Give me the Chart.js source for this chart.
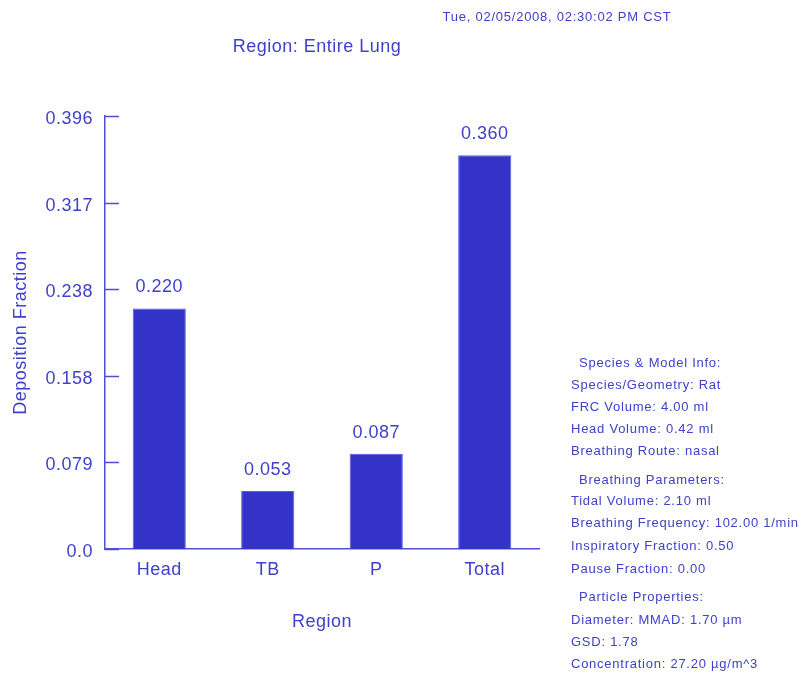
<!DOCTYPE html>
<html>
<head>
<meta charset="utf-8">
<script src="https://cdn.jsdelivr.net/npm/chart.js@4/dist/chart.umd.min.js"></script>
<style>
html,body{margin:0;padding:0;background:#fff;}
#wrap{position:relative;width:802px;height:673px;}
canvas{position:absolute;left:0;top:0;}
</style>
</head>
<body>
<div id="wrap"><canvas id="c" width="802" height="673"></canvas></div>
<script>
const categories = ["Head", "TB", "P", "Total"];
const depositionFraction = [0.220, 0.053, 0.087, 0.360];
const yTickValues = [0.0, 0.0792, 0.1584, 0.2376, 0.3168, 0.396];
const yTickLabels = ["0.0", "0.079", "0.158", "0.238", "0.317", "0.396"];
const chartTitle = "Region: Entire Lung";
const timestamp = "Tue, 02/05/2008, 02:30:02 PM CST";
const infoLines = [
  ["Species & Model Info:", true],
  ["Species/Geometry: Rat", false],
  ["FRC Volume: 4.00 ml", false],
  ["Head Volume: 0.42 ml", false],
  ["Breathing Route: nasal", false],
  ["Breathing Parameters:", true],
  ["Tidal Volume: 2.10 ml", false],
  ["Breathing Frequency: 102.00 1/min", false],
  ["Inspiratory Fraction: 0.50", false],
  ["Pause Fraction: 0.00", false],
  ["Particle Properties:", true],
  ["Diameter: MMAD: 1.70 \u00b5m", false],
  ["GSD: 1.78", false],
  ["Concentration: 27.20 \u00b5g/m^3", false]
];
const infoY = [363, 385, 407, 429, 451, 480, 501, 523, 546, 569, 597, 620, 642, 664];

const TXT = "#4040cc";
const AXIS = "#4f4fd6";
const FONT = "Liberation Sans, Arial, sans-serif";

const spacing = {
  id: "spacing",
  beforeDraw(chart) { chart.ctx.letterSpacing = "0.5px"; }
};

const extras = {
  id: "extras",
  afterDatasetsDraw(chart) {
    const ctx = chart.ctx;
    const y = chart.scales.y;
    ctx.save();
    ctx.strokeStyle = AXIS;
    ctx.lineWidth = 1.5;
    yTickValues.forEach(v => {
      const py = Math.round(y.getPixelForValue(v)) + 0.5;
      ctx.beginPath();
      ctx.moveTo(chart.chartArea.left, py);
      ctx.lineTo(chart.chartArea.left + 14, py);
      ctx.stroke();
    });
    ctx.fillStyle = TXT;
    ctx.letterSpacing = "0.5px";
    ctx.font = "18px " + FONT;
    ctx.textAlign = "center";
    ctx.textBaseline = "middle";
    const meta = chart.getDatasetMeta(0);
    meta.data.forEach((bar, i) => {
      ctx.fillText(depositionFraction[i].toFixed(3), bar.x, bar.y - 21);
    });
    ctx.fillText(chartTitle, 317, 47);
    ctx.letterSpacing = "0.75px";
    ctx.font = "13px " + FONT;
    ctx.fillText(timestamp, 557, 17);
    ctx.textAlign = "left";
    infoLines.forEach((ln, i) => {
      ctx.fillText(ln[0], ln[1] ? 579 : 571, infoY[i]);
    });
    ctx.restore();
  }
};

new Chart(document.getElementById("c"), {
  type: "bar",
  data: {
    labels: categories,
    datasets: [{
      data: depositionFraction,
      backgroundColor: "#3333c8",
      borderColor: "#5a5ae8",
      borderWidth: 1,
      barPercentage: 0.49,
      categoryPercentage: 1.0
    }]
  },
  options: {
    responsive: false,
    animation: false,
    events: [],
    layout: { padding: { left: 0, top: 116, right: 263, bottom: 40 } },
    plugins: { legend: { display: false }, tooltip: { enabled: false }, title: { display: false } },
    scales: {
      x: {
        offset: true,
        grid: { display: false },
        border: { display: true, color: AXIS, width: 1.5 },
        ticks: { color: TXT, font: { family: FONT, size: 18 }, padding: 2, maxRotation: 0 },
        title: { display: true, text: "Region", color: TXT, font: { family: FONT, size: 18 }, padding: { top: 4, bottom: 0 } },
        afterFit(s) { s.height = 84; }
      },
      y: {
        min: 0,
        max: 0.396,
        grid: { display: false },
        border: { display: true, color: AXIS, width: 1.5 },
        afterBuildTicks(s) { s.ticks = yTickValues.map(v => ({ value: v })); },
        ticks: {
          color: TXT,
          font: { family: FONT, size: 18 },
          padding: 4,
          labelOffset: 3,
          callback(v, i) { return yTickLabels[i]; }
        },
        title: { display: true, text: "Deposition Fraction", color: TXT, font: { family: FONT, size: 18 }, padding: { top: 10, bottom: 4 } },
        afterFit(s) { s.width = 105; }
      }
    }
  },
  plugins: [spacing, extras]
});
</script>
</body>
</html>
